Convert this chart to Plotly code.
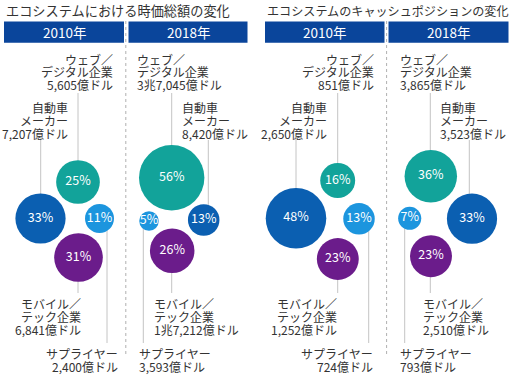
import plotly.graph_objects as go

# ---------------- data ----------------
chart_titles = ["エコシステムにおける時価総額の変化", "エコシステムのキャッシュポジションの変化"]
panel_years = ["2010年", "2018年", "2010年", "2018年"]
categories = ["ウェブ／デジタル企業", "自動車メーカー", "モバイル／テック企業", "サプライヤー"]
category_lines = [["ウェブ／", "デジタル企業"], ["自動車", "メーカー"],
                  ["モバイル／", "テック企業"], ["サプライヤー"]]

mcap_2010_pct = [25, 33, 31, 11]
mcap_2018_pct = [56, 13, 26, 5]
cash_2010_pct = [16, 48, 23, 13]
cash_2018_pct = [36, 33, 23, 7]

mcap_2010_amt = ["5,605億ドル", "7,207億ドル", "6,841億ドル", "2,400億ドル"]
mcap_2018_amt = ["3兆7,045億ドル", "8,420億ドル", "1兆7,212億ドル", "3,593億ドル"]
cash_2010_amt = ["851億ドル", "2,650億ドル", "1,252億ドル", "724億ドル"]
cash_2018_amt = ["3,865億ドル", "3,523億ドル", "2,510億ドル", "793億ドル"]

panel_pct = [mcap_2010_pct, mcap_2018_pct, cash_2010_pct, cash_2018_pct]
panel_amt = [mcap_2010_amt, mcap_2018_amt, cash_2010_amt, cash_2018_amt]

# ---------------- layout / style ----------------
W, H = 512, 380
FONT = "Noto Sans CJK JP"
TXT = "#333333"
cat_colors = ["#12a39a", "#0b5fb1", "#6b1c8b", "#1c95de"]
HEADER = "#0a459b"

title_x = [4, 265]
title_size = [13.2, 12.1]
header_x0 = [4, 128.5, 265, 388.5]
header_x1 = [124, 247.5, 384.5, 508.5]
divider_x = [125.8, 386.6]

bubble_xy = [
    [(78, 182), (40.5, 218.5), (78.5, 257.5), (99.5, 218.5)],
    [(171.7, 177.8), (203.7, 220), (172.2, 250.8), (149, 221)],
    [(337.7, 180.5), (296, 218.3), (337.8, 259), (359, 218.8)],
    [(430.8, 176.3), (472, 218.7), (431, 256.2), (409.7, 218.3)],
]
leader_x = [[78, 40.7, 78, 107], [171.7, 208.3, 171.7, 143.3],
            [337.7, 296, 337.7, 368.7], [430.3, 469.3, 430.3, 404.7]]
label_x = [[115, 70, 83, 120], [135, 180, 152, 137],
           [376, 329, 339, 375], [398, 438, 421, 398]]
label_align = ["right", "left", "right", "left"]
label_top = [59, 107.5, 303.5, 353.5]
line_gap = 12.8
leader_end = [93, 140, 293, 343]   # label-side end of each leader line
SIZEREF = 2 / (8.74 ** 2)

fig = go.Figure()
shapes, annos = [], []

# bubbles
for c, cat in enumerate(categories):
    xs = [bubble_xy[p][c][0] for p in range(4)]
    ys = [bubble_xy[p][c][1] for p in range(4)]
    vals = [panel_pct[p][c] for p in range(4)]
    fig.add_trace(go.Scatter(
        x=xs, y=ys, mode="markers+text", name=cat,
        marker=dict(size=vals, sizemode="area", sizeref=SIZEREF,
                    color=cat_colors[c], line=dict(width=0), opacity=1),
        text=[f"{v}%" for v in vals], textposition="middle center",
        textfont=dict(family=FONT, size=12.5, color="white"),
        hoverinfo="skip", showlegend=False))

# leader lines
for p in range(4):
    for c in range(4):
        cy = bubble_xy[p][c][1]
        shapes.append(dict(type="line", layer="below", xref="x", yref="y",
                           x0=leader_x[p][c], x1=leader_x[p][c],
                           y0=leader_end[c], y1=cy,
                           line=dict(color="#c4c4c4", width=1)))

# dividers
for dx in divider_x:
    shapes.append(dict(type="line", layer="below", xref="x", yref="y",
                       x0=dx, x1=dx, y0=21, y1=356,
                       line=dict(color="#b0b0b0", width=1, dash="dot")))

# headers
for p in range(4):
    shapes.append(dict(type="rect", layer="below", xref="x", yref="y",
                       x0=header_x0[p], x1=header_x1[p], y0=21.5, y1=42.8,
                       fillcolor=HEADER, line=dict(width=0)))
    annos.append(dict(x=(header_x0[p] + header_x1[p]) / 2, y=32.4, xref="x", yref="y",
                      text=panel_years[p], showarrow=False, xanchor="center", yanchor="middle",
                      font=dict(family=FONT, size=13.5, color="white")))

# titles
for i, t in enumerate(chart_titles):
    annos.append(dict(x=title_x[i], y=10, xref="x", yref="y", text=t, showarrow=False,
                      xanchor="left", yanchor="middle",
                      font=dict(family=FONT, size=title_size[i], color=TXT)))

# category labels
for p in range(4):
    for c in range(4):
        rows = category_lines[c] + [panel_amt[p][c]]
        for r, row in enumerate(rows):
            annos.append(dict(x=label_x[p][c], y=label_top[c] + r * line_gap,
                              xref="x", yref="y", text=row, showarrow=False,
                              xanchor=label_align[p], yanchor="middle",
                              font=dict(family=FONT, size=12, color=TXT)))

fig.update_layout(
    width=W, height=H, margin=dict(l=0, r=0, t=0, b=0),
    paper_bgcolor="white", plot_bgcolor="white",
    xaxis=dict(range=[0, W], visible=False, fixedrange=True),
    yaxis=dict(range=[H, 0], visible=False, fixedrange=True),
    shapes=shapes, annotations=annos, showlegend=False,
)

fig.write_html("out.html", config={"displayModeBar": False},
               post_script="document.body.style.margin='0px';")
